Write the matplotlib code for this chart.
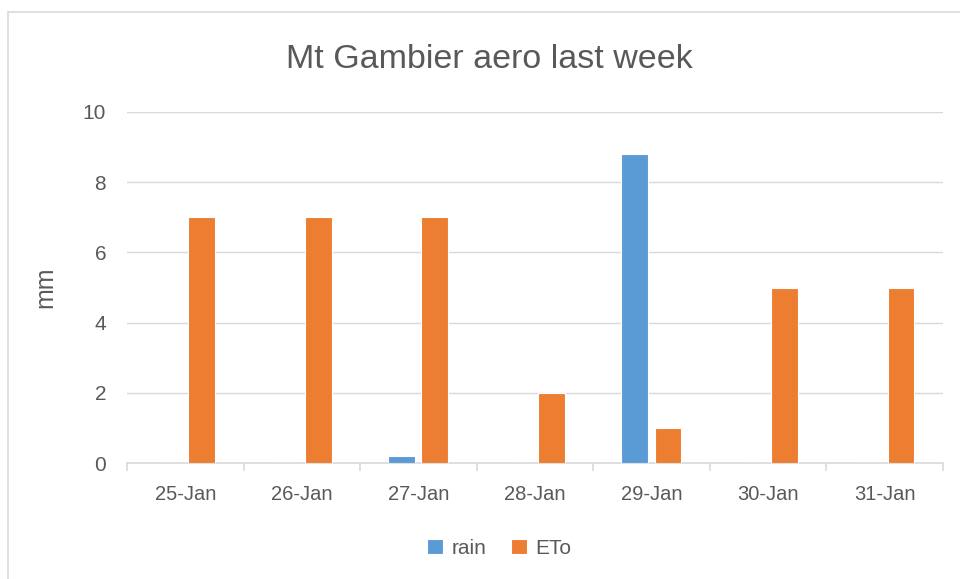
import matplotlib.pyplot as plt
import matplotlib.patches as mpatches
import numpy as np

days = ['25-Jan', '26-Jan', '27-Jan', '28-Jan', '29-Jan', '30-Jan', '31-Jan']
rain = [0, 0, 0.2, 0, 8.8, 0, 0]
eto = [7, 7, 7, 2, 1, 5, 5]

plt.rcParams['font.family'] = ['Liberation Sans', 'DejaVu Sans']
grey = '#595959'

fig = plt.figure(figsize=(9.6, 5.79), dpi=100)
ax = fig.add_axes([0.1323, 0.2003, 0.982 - 0.1323, 0.8066 - 0.2003])

# chart border
fig.patches.append(mpatches.Rectangle((8 / 960, -0.05), 1.2, 1 - 12 / 579 + 0.05,
                                      transform=fig.transFigure, fill=False,
                                      edgecolor='#d9d9d9', lw=1.2))

x = np.arange(len(days))
w = 0.23
ax.bar(x - 0.142, rain, w, color='#5b9bd5', edgecolor='white', lw=0.8, label='rain', zorder=3)
ax.bar(x + 0.142, eto, w, color='#ed7d31', edgecolor='white', lw=0.8, label='ETo', zorder=3)

ax.set_xlim(-0.5, len(days) - 0.5)
ax.set_ylim(0, 10)
ax.set_yticks(range(0, 11, 2))
ax.yaxis.grid(True, color='#d9d9d9', lw=1)
ax.set_axisbelow(True)
for s in ['top', 'right', 'left']:
    ax.spines[s].set_visible(False)
ax.spines['bottom'].set_color('#d9d9d9')
ax.spines['bottom'].set_linewidth(1.2)

ax.set_xticks(x)
ax.set_xticklabels(days)
ax.set_xticks(np.arange(-0.5, len(days)), minor=True)
ax.tick_params(axis='x', which='major', length=0, pad=16, labelsize=14.5, labelcolor=grey)
ax.tick_params(axis='x', which='minor', length=6, width=1.2, color='#d9d9d9')
ax.tick_params(axis='y', length=0, pad=15, labelsize=15, labelcolor=grey)

ax.set_ylabel('mm', fontsize=18, color=grey, labelpad=18)
fig.text(0.51, 0.898, 'Mt Gambier aero last week', ha='center', va='center',
         fontsize=24.5, color=grey)

ax.legend(loc='center', bbox_to_anchor=(0.52, 1 - 548 / 579), bbox_transform=fig.transFigure,
          ncol=2, frameon=False, fontsize=15, labelcolor=grey, handlelength=0.75,
          handleheight=0.75, handletextpad=0.4, columnspacing=1.2)

fig.savefig('out.png', dpi=100)
